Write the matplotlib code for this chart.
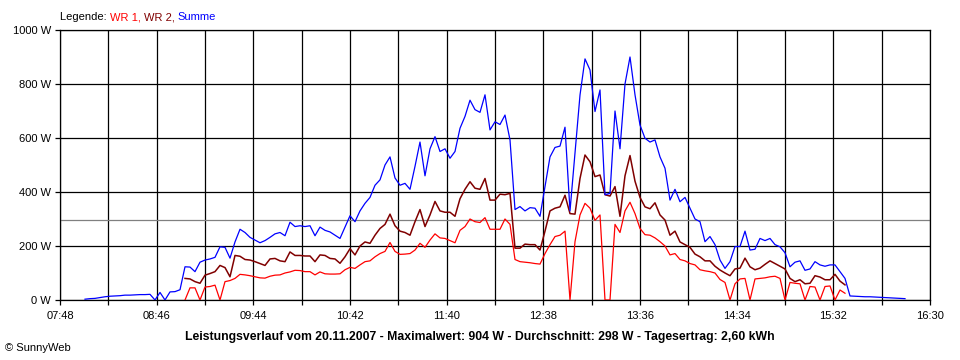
import numpy as np
import matplotlib
matplotlib.use("Agg")
import matplotlib.pyplot as plt
from matplotlib.ticker import FixedLocator, FuncFormatter

plt.rcParams['font.family'] = ['Liberation Sans', 'DejaVu Sans']

# Zeit in Minuten seit Mitternacht, Raster 3 min
STEP = 3
T0_SUMME = 8 * 60 + 3      # 08:03
T0_WR = 9 * 60 + 3         # 09:03

summe = [3, 5, 6, 9, 12, 14, 15, 16, 18, 18, 19, 20, 20, 21, 0, 28, 0, 30, 31, 38,
         123, 122, 105, 140, 148, 152, 158, 197, 195, 155, 215, 262, 250, 232, 222, 212,
         220, 232, 245, 250, 238, 288, 272, 275, 272, 275, 238, 270, 258, 252, 240, 228,
         270, 312, 290, 330, 358, 380, 425, 445, 500, 530, 452, 425, 432, 410, 495, 585,
         460, 560, 605, 550, 560, 525, 550, 636, 680, 740, 705, 695, 760, 630, 660, 650,
         685, 593, 335, 346, 330, 342, 340, 310, 420, 530, 565, 570, 640, 330, 545, 759,
         893, 852, 698, 778, 390, 395, 700, 560, 800, 900, 760, 648, 599, 585, 593, 530,
         488, 370, 410, 364, 380, 340, 300, 290, 216, 235, 205, 148, 117, 142, 198, 198,
         255, 185, 188, 228, 220, 228, 205, 197, 175, 123, 140, 145, 110, 115, 142, 130,
         125, 130, 130, 105, 80, 15, 14, 13, 12, 12, 11, 10, 9, 8, 7, 6, 5]

wr1 = [0, 45, 45, 0, 48, 50, 55, 0, 68, 72, 80, 95, 93, 90, 86, 82, 81, 88, 92, 93,
       100, 104, 110, 109, 105, 105, 93, 104, 97, 96, 96, 97, 112, 121, 117, 130, 142,
       145, 160, 172, 180, 213, 180, 169, 170, 172, 185, 210, 195, 222, 245, 230, 228,
       220, 212, 258, 272, 300, 290, 287, 305, 262, 262, 262, 300, 280, 150, 142, 140,
       138, 135, 133, 172, 205, 235, 240, 255, 0, 216, 315, 358, 340, 295, 315, 0, 0,
       280, 250, 330, 362, 320, 265, 242, 240, 230, 216, 200, 167, 172, 150, 145, 135,
       130, 112, 108, 105, 100, 76, 65, 0, 60, 78, 80, 0, 78, 80, 82, 86, 88, 80, 0,
       65, 62, 60, 0, 50, 48, 0, 50, 52, 0, 37, 25]

wr2 = [80, 78, 68, 62, 92, 98, 105, 128, 120, 86, 165, 162, 150, 148, 142, 135, 128,
       152, 154, 145, 142, 178, 165, 165, 163, 163, 142, 167, 165, 154, 152, 136, 160,
       190, 167, 200, 215, 210, 240, 265, 280, 318, 275, 255, 250, 240, 290, 335, 272,
       315, 365, 330, 325, 325, 310, 375, 410, 438, 414, 410, 450, 370, 370, 392, 390,
       395, 192, 192, 207, 205, 205, 185, 255, 330, 340, 345, 388, 320, 318, 450, 537,
       512, 457, 463, 390, 385, 420, 310, 460, 535, 440, 380, 345, 338, 360, 315, 296,
       240, 255, 215, 205, 195, 170, 160, 145, 145, 125, 111, 100, 90, 115, 118, 155,
       123, 112, 118, 132, 145, 135, 125, 115, 80, 68, 75, 60, 62, 90, 85, 75, 75, 95,
       70, 56]

durchschnitt = 298
x_labels = ["07:48", "08:46", "09:44", "10:42", "11:40", "12:38", "13:36", "14:34", "15:32", "16:30"]
y_ticks = [0, 200, 400, 600, 800, 1000]
titel = ("Leistungsverlauf vom 20.11.2007 - Maximalwert: 904 W - "
         "Durchschnitt: 298 W - Tagesertrag: 2,60 kWh")


def to_min(s):
    h, m = s.split(":")
    return int(h) * 60 + int(m)


t_summe = T0_SUMME + STEP * np.arange(len(summe))
t_wr = T0_WR + STEP * np.arange(len(wr1))

W, H = 960, 360
fig = plt.figure(figsize=(W / 100, H / 100), dpi=100)
ax = fig.add_axes([60 / W, 60 / H, 870 / W, 270 / H])

x_major = [to_min(s) for s in x_labels]
x_minor = [a + 29 for a in x_major[:-1]]
ax.set_xlim(x_major[0], x_major[-1])
ax.set_ylim(0, 1000)

for x in x_major + x_minor:
    ax.axvline(x, color="black", lw=0.9, zorder=1)
for y in y_ticks:
    ax.axhline(y, color="black", lw=0.9, zorder=1)
ax.axhline(durchschnitt, color="#808080", lw=0.9, zorder=1)

ax.plot(t_wr, wr1, color="#FF0000", lw=0.9, zorder=3)
ax.plot(t_wr, wr2, color="#800000", lw=1.1, zorder=3)
ax.plot(t_summe, summe, color="#0000FF", lw=0.9, zorder=4)

ax.xaxis.set_major_locator(FixedLocator(x_major))
ax.xaxis.set_minor_locator(FixedLocator(x_minor))
ax.set_xticklabels(x_labels)
ax.yaxis.set_major_locator(FixedLocator(y_ticks))
ax.yaxis.set_major_formatter(FuncFormatter(lambda v, p: f"{int(v)} W"))
ax.tick_params(axis="both", which="both", direction="out", length=3.6, width=0.9,
               color="black", labelsize=8, pad=3)
ax.tick_params(axis="x", pad=4)
for s in ax.spines.values():
    s.set_color("black")
    s.set_linewidth(0.9)

# Legende als farbiger Text
parts = [("Legende: ", "black"), ("WR 1, ", "#FF0000"), ("WR 2, ", "#800000"), ("Summe", "#0000FF")]
fig.canvas.draw()
r = fig.canvas.get_renderer()
xpos = 60
for txt, col in parts:
    t = fig.text(xpos / W, 1 - 17 / H, txt, color=col, fontsize=8, va="center", ha="left")
    bb = t.get_window_extent(renderer=r)
    xpos += bb.width

fig.text(480 / W, 1 - 337 / H, titel, fontsize=8.8, fontweight="bold", ha="center", va="center")
fig.text(5 / W, 1 - 348 / H, "\u00a9 SunnyWeb", fontsize=8, ha="left", va="center")

fig.savefig("out.png", dpi=100)
